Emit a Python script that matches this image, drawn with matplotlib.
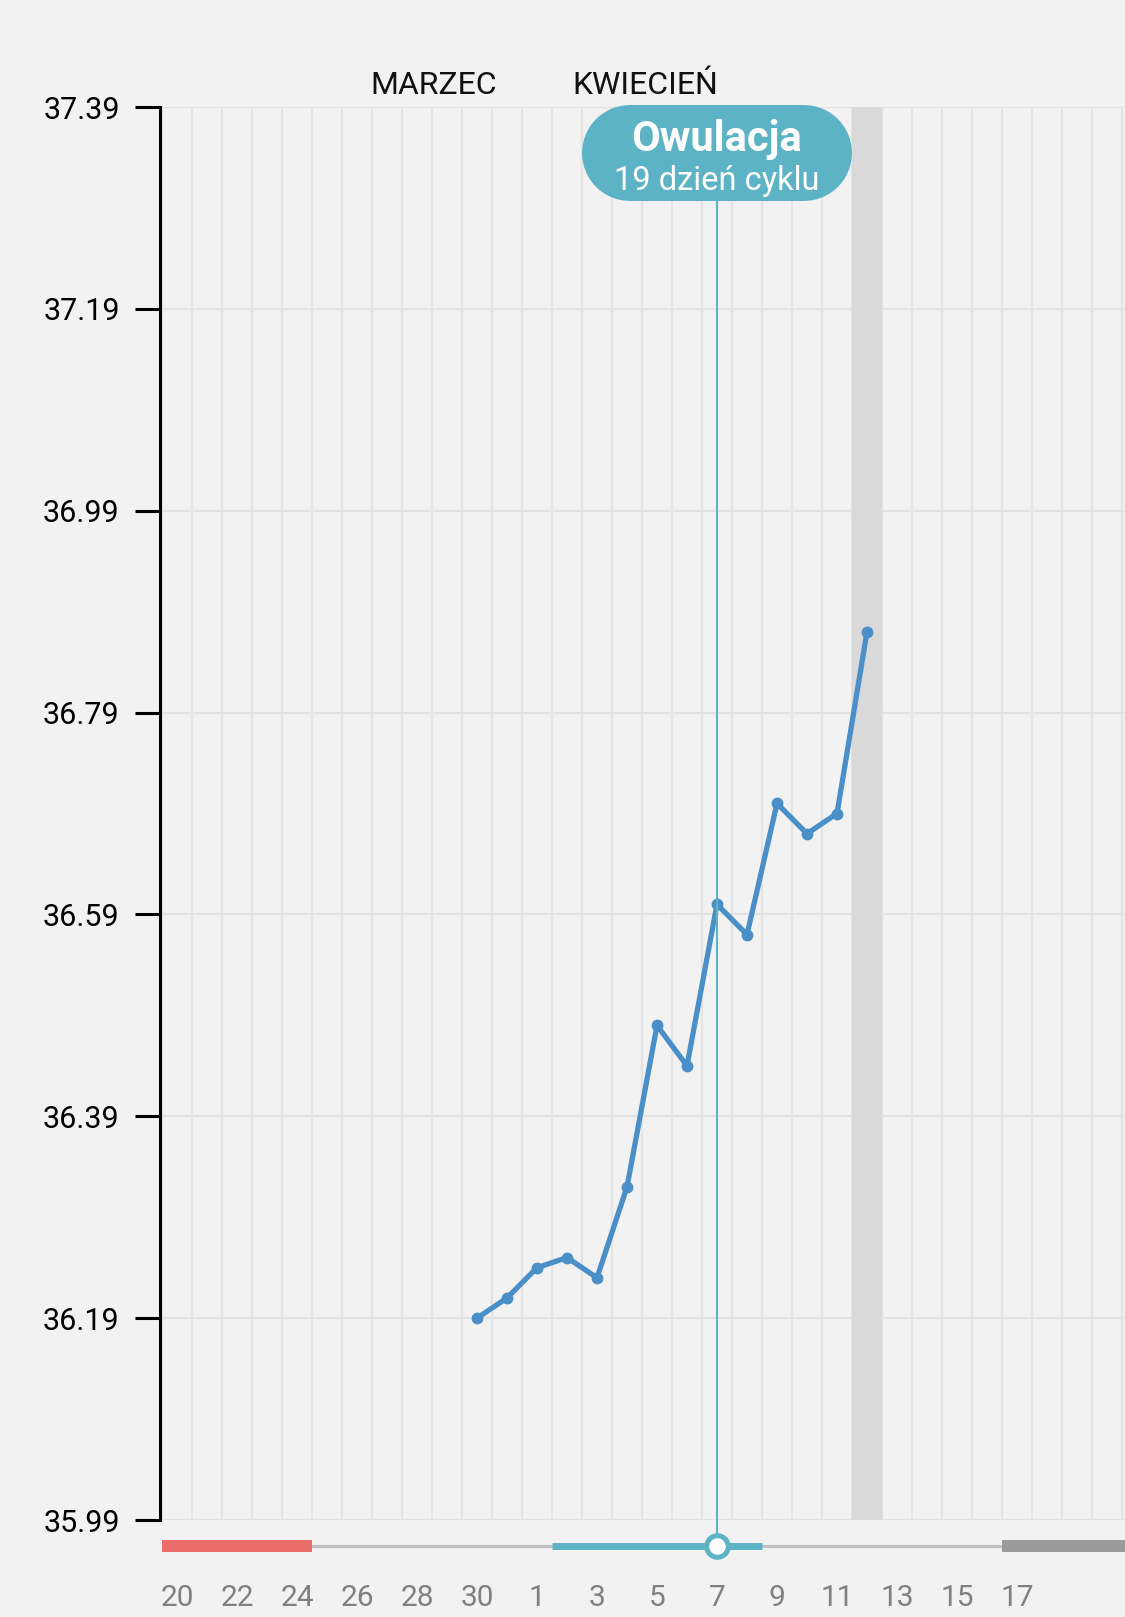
import numpy as np
import matplotlib
matplotlib.use('Agg')
import matplotlib.pyplot as plt
from matplotlib.transforms import IdentityTransform

plt.rcParams['font.family'] = ['Roboto', 'DejaVu Sans']

# kalendarz: 20 marca .. 20 kwietnia
dni_marzec = list(range(20, 32))
dni_kwiecien = list(range(1, 21))
kalendarz = [f'{d:02d}.03' for d in dni_marzec] + [f'{d:02d}.04' for d in dni_kwiecien]
etykiety_dni = dni_marzec + dni_kwiecien
ostatnia_etykieta = '17.04'

# pomiary temperatury
temp_dni = ['30.03', '31.03', '01.04', '02.04', '03.04', '04.04', '05.04',
            '06.04', '07.04', '08.04', '09.04', '10.04', '11.04', '12.04']
temperatury = [36.19, 36.21, 36.24, 36.25, 36.23, 36.32, 36.48,
               36.44, 36.60, 36.57, 36.70, 36.67, 36.69, 36.87]

y_ticks = [35.99, 36.19, 36.39, 36.59, 36.79, 36.99, 37.19, 37.39]

owulacja = '07.04'
dzien_cyklu = 19
dzis = '12.04'
miesiaczka = ('20.03', '24.03')
dni_plodne = ('02.04', '08.04')
nastepna = '17.04'

miesiace = ['MARZEC', 'KWIECIEŃ']

idx = {d: i for i, d in enumerate(kalendarz)}
bg = '#f2f2f2'
teal = '#5bb3c5'

fig = plt.figure(figsize=(11.25, 16.17), dpi=100, facecolor=bg)
ax = fig.add_axes([160 / 1125, 97 / 1617, 965 / 1125, 1413 / 1617])
ax.set_facecolor(bg)

x0 = -17 / 30
ax.set_xlim(x0, x0 + 965 / 30)
ax.set_ylim(y_ticks[0], y_ticks[-1])

for s in ['top', 'right', 'bottom']:
    ax.spines[s].set_visible(False)
ax.spines['left'].set_linewidth(2.2)
ax.spines['left'].set_color('black')

# osie i siatka
ax.set_yticks(y_ticks)
ax.set_yticklabels([f'{v:.2f}' for v in y_ticks])
ax.tick_params(axis='y', length=18, width=2.2, pad=11, labelsize=22, colors='black')

n_lab = idx[ostatnia_etykieta] + 1
ax.set_xticks(np.arange(0, n_lab, 2))
ax.set_xticklabels([str(d) for d in etykiety_dni[:n_lab:2]])
ax.set_xticks(np.arange(len(kalendarz) + 1) - 0.5, minor=True)
ax.tick_params(axis='x', which='both', length=0, pad=46, labelsize=21.5, labelcolor='#808080')

ax.grid(axis='y', which='major', color='#e2e2e2', lw=1.6)
ax.grid(axis='x', which='minor', color='#e4e4e4', lw=1.6)
ax.grid(axis='x', which='major', visible=False)
ax.set_axisbelow(True)

# dzisiaj
ax.axvspan(idx[dzis] - 0.5, idx[dzis] + 0.5, color='#d9d9d9', zorder=0.6, lw=0)

# temperatura
tx = [idx[d] for d in temp_dni]
ax.plot(tx, temperatury, color='#4a8fc8', lw=3.8, marker='o', ms=7.5, zorder=3)

# owulacja
ov = idx[owulacja]
xt = ax.get_xaxis_transform()
bar_y = -26 / 1413
ax.plot([ov, ov], [bar_y, (1520 - 201) / 1413], transform=xt, color=teal,
        lw=1.5, clip_on=False, zorder=4)

# pasek cyklu pod osia
xr = ax.get_xlim()[1]
ax.plot([-0.5, xr], [bar_y, bar_y], transform=xt, color='#c2c2c2', lw=2.3,
        clip_on=False, solid_capstyle='butt', zorder=4)
ax.plot([idx[miesiaczka[0]] - 0.5, idx[miesiaczka[1]] + 0.5], [bar_y, bar_y], transform=xt,
        color='#e96c68', lw=8.6, clip_on=False, solid_capstyle='butt', zorder=5)
ax.plot([idx[dni_plodne[0]] - 0.5, idx[dni_plodne[1]] + 0.5], [bar_y, bar_y], transform=xt,
        color=teal, lw=5, clip_on=False, solid_capstyle='butt', zorder=5)
ax.plot([idx[nastepna] - 0.5, xr], [bar_y, bar_y], transform=xt,
        color='#9a9a9a', lw=8.6, clip_on=False, solid_capstyle='butt', zorder=5)
ax.plot([ov], [bar_y], transform=xt, marker='o', ms=15.5, mew=3.6, mfc='white',
        mec=teal, clip_on=False, zorder=6)

# dymek (pigulka jako gruba linia z okraglymi koncami)
cx = ax.transData.transform((ov, y_ticks[0]))[0]
cy = ax.transAxes.transform((0, (1520 - 153.5) / 1413))[1]
w, h = 270, 96
ax.plot([cx - w / 2 + h / 2, cx + w / 2 - h / 2], [cy, cy], transform=IdentityTransform(),
        color=teal, lw=h * 72 / 100, solid_capstyle='round', clip_on=False, zorder=7)
ax.text(ov, (1520 - 140) / 1413, 'Owulacja', transform=xt, ha='center', va='center',
        color='white', fontsize=30, fontweight='bold', zorder=8)
ax.text(ov, (1520 - 181) / 1413, f'{dzien_cyklu} dzień cyklu', transform=xt, ha='center',
        va='center', color='white', fontsize=23.5, zorder=8)

# miesiace
kw = idx['01.04']
ax.text(kw - 1.33, (1520 - 85) / 1413, miesiace[0], transform=xt, ha='right', va='center',
        fontsize=23, color='#111111')
ax.text(kw + 1.17, (1520 - 85) / 1413, miesiace[1], transform=xt, ha='left', va='center',
        fontsize=23, color='#111111')

fig.savefig('out.png', dpi=100, facecolor=bg)
